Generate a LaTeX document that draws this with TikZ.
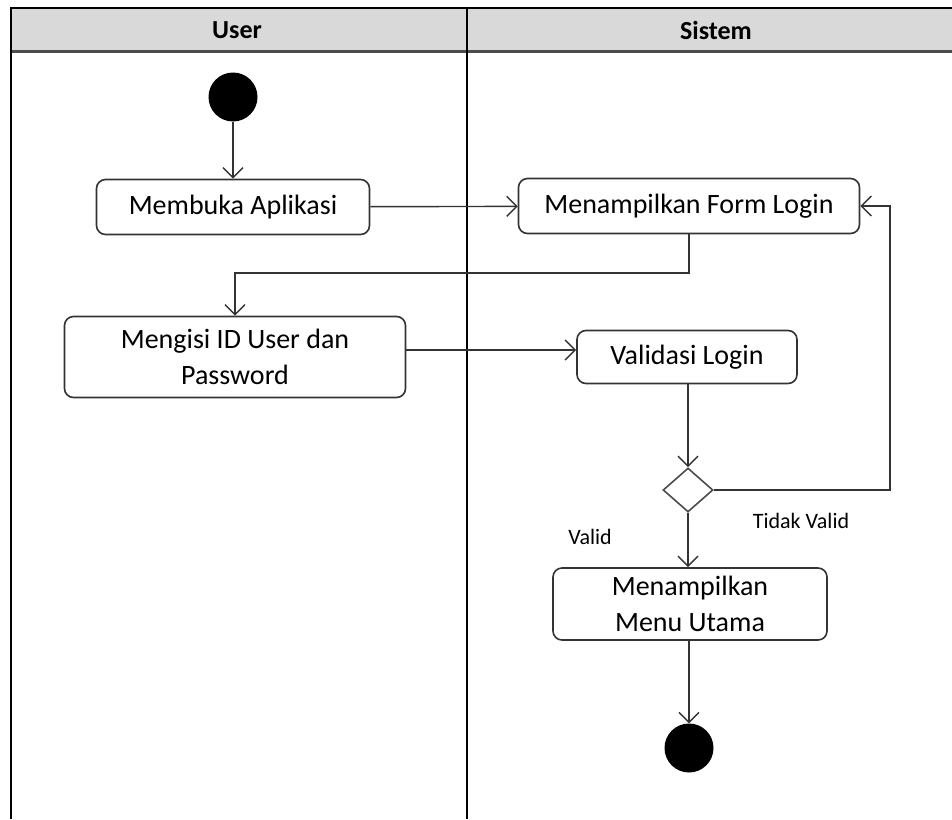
\documentclass[tikz,border=0pt]{standalone}
\usepackage{fontspec}
\setmainfont{Carlito}
\usetikzlibrary{shapes.geometric, arrows.meta, positioning, calc}
\tikzset{
    activity/.style={rectangle, rounded corners=9, draw=black!80, line width=1.6, fill=white, minimum height=55, align=center, inner sep=0, font=\fontsize{28}{36}\selectfont},
    startstop/.style={circle, fill=black, minimum size=49, inner sep=0},
    decision/.style={diamond, draw=black!70, line width=1.6, fill=white, minimum width=50, minimum height=44, inner sep=0},
    guard/.style={font=\fontsize{22}{26}\selectfont},
    lanehead/.style={font=\bfseries\fontsize{26}{30}\selectfont},
    arrow/.style={line width=1.4, draw=black!80, -{Straight Barb[length=10,width=20,line width=1.4]}}
}

\begin{document}
\begin{tikzpicture}[x=1pt, y=-1pt]
    \useasboundingbox (0,0) rectangle (952,819);
    % swimlanes
    \fill[black!15] (11,8) rectangle (960,51);
    \draw[black!70, line width=3] (11,51) -- (960,51);
    \draw[line width=1.8] (11,819) -- (11,8) -- (960,8);
    \draw[line width=1.6] (467,8) -- (467,819);
    \node[lanehead] (user) at (237,30) {User};
    \node[lanehead] (sistem) at (716,30) {Sistem};

    % activities
    \node[startstop] (mulai) at (233,97) {};
    \node[activity, minimum width=273] (buka) at (233,207) {Membuka Aplikasi};
    \node[activity, minimum width=341] (form) at (689,206) {Menampilkan Form Login};
    \node[activity, minimum width=341, minimum height=81] (isi) at (235,357) {Mengisi ID User dan\\Password};
    \node[activity, minimum width=220, minimum height=53] (validasi) at (687,357) {Validasi Login};
    \node[decision] (cek) at (688,490) {};
    \node[activity, minimum width=274, minimum height=72] (menu) at (690,604) {Menampilkan\\Menu Utama};
    \node[startstop] (selesai) at (689,748) {};

    \coordinate (belok) at (890,490);
    \coordinate (turun) at (689,273);

    % flows
    \draw[arrow] (mulai) -- (buka);
    \draw[arrow] (buka) -- (form);
    \draw[arrow] (form.south -| turun) -- (turun) -| (isi.north);
    \draw[arrow] (isi.east |- 0,350) -- (validasi.west |- 0,350);
    \draw[arrow] (validasi.south -| cek) -- (cek.north);
    \draw[arrow] (cek.east) -- (belok) |- (form.east);
    \draw[arrow] (cek.south) -- (menu.north -| cek);
    \draw[arrow] (menu.south -| selesai) -- (selesai);
    \node[guard] (valid) at (590,537) {Valid};
    \node[guard] (tidak) at (801,521) {Tidak Valid};
\end{tikzpicture}
\end{document}
